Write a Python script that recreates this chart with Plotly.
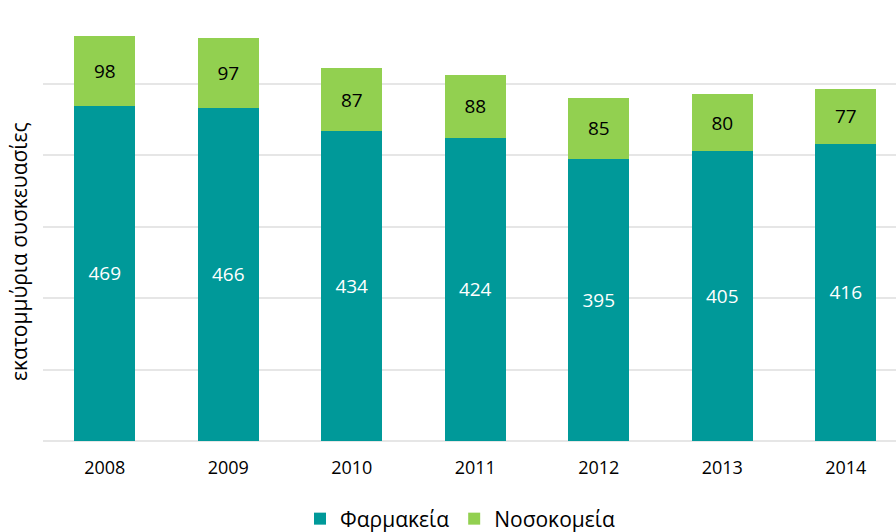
import plotly.graph_objects as go

# Annual package volumes (millions) by distribution channel
years = ["2008", "2009", "2010", "2011", "2012", "2013", "2014"]
pharmacies = [469, 466, 434, 424, 395, 405, 416]
hospitals = [98, 97, 87, 88, 85, 80, 77]

TEAL = "#009999"
GREEN = "#92D050"
FONT = "Open Sans"

W, H = 896, 532
left, top, bottom = 43, 12, 91
slot_px = 123.5
plot_w = W - left
plot_h = H - top - bottom

fig = go.Figure()
fig.add_trace(go.Bar(
    x=years, y=pharmacies, name="Φαρμακεία",
    marker=dict(color=TEAL, line=dict(width=0)),
    text=[str(v) for v in pharmacies], textposition="inside",
    insidetextanchor="middle",
    textfont=dict(color="white", size=19, family=FONT),
))
fig.add_trace(go.Bar(
    x=years, y=hospitals, name="Νοσοκομεία",
    marker=dict(color=GREEN, line=dict(width=0)),
    text=[str(v) for v in hospitals], textposition="inside",
    insidetextanchor="middle",
    textfont=dict(color="black", size=19, family=FONT),
))

fig.update_layout(
    barmode="stack",
    bargap=0.506,
    width=W, height=H,
    margin=dict(l=left, r=0, t=top, b=bottom, pad=0, autoexpand=False),
    paper_bgcolor="white", plot_bgcolor="white",
    font=dict(family=FONT, size=18, color="black"),
    xaxis=dict(
        type="category",
        range=[-0.5, -0.5 + plot_w / slot_px],
        showgrid=False, zeroline=False, showline=False,
        ticks="outside", ticklen=10, tickcolor="rgba(0,0,0,0)",
        tickfont=dict(size=18, family=FONT, color="black"),
    ),
    yaxis=dict(
        range=[0, 600], dtick=100,
        showticklabels=False, ticks="",
        showgrid=True, gridcolor="#e6e6e6", gridwidth=1.5,
        zeroline=True, zerolinecolor="#e6e6e6", zerolinewidth=1.5,
        showline=False,
    ),
    legend=dict(
        orientation="h", x=(460 - left) / plot_w, xanchor="center",
        y=-(519 - 441) / plot_h, yanchor="middle",
        font=dict(size=21, family=FONT, color="black"),
        itemwidth=30, traceorder="normal",
        borderwidth=0, tracegroupgap=0,
    ),
    showlegend=True,
    annotations=[dict(
        text="εκατομμύρια συσκευασίες",
        xref="paper", yref="paper",
        x=-(left - 19) / plot_w, y=(441 - 252) / plot_h,
        xanchor="center", yanchor="middle",
        textangle=-90, showarrow=False,
        font=dict(size=21, family=FONT, color="black"),
    )],
)

fig.write_html("out.html")
